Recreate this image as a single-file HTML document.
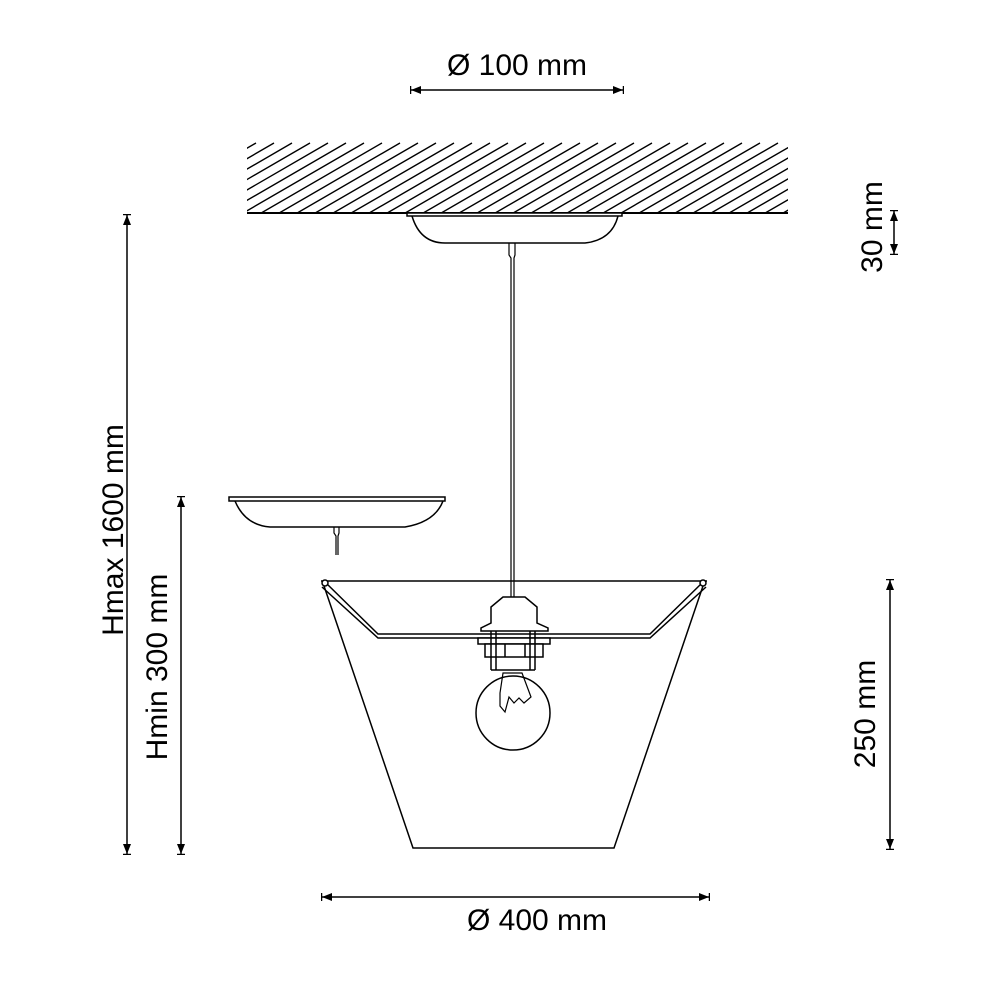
<!DOCTYPE html>
<html><head><meta charset="utf-8"><style>html,body{margin:0;padding:0;background:#fff}svg{display:block}</style></head>
<body>
<svg width="1000" height="1000" viewBox="0 0 1000 1000" xmlns="http://www.w3.org/2000/svg">
<defs>
<marker id="a" viewBox="0 0 12 12" refX="11" refY="6" markerWidth="12" markerHeight="12" markerUnits="userSpaceOnUse" orient="auto-start-reverse">
<path d="M11,6 L1,2 L1,10 Z" fill="#000"/><path d="M11.5,2 V10" stroke="#000" stroke-width="1.5"/>
</marker>
<clipPath id="hc"><rect x="247" y="140" width="541" height="73"/></clipPath>
</defs>
<g clip-path="url(#hc)" stroke="#000" stroke-width="1.4">
<path d="M112,216 l126,-73 M130,216 l126,-73 M148,216 l126,-73 M166,216 l126,-73 M184,216 l126,-73 M202,216 l126,-73 M220,216 l126,-73 M238,216 l126,-73 M256,216 l126,-73 M274,216 l126,-73 M292,216 l126,-73 M310,216 l126,-73 M328,216 l126,-73 M346,216 l126,-73 M364,216 l126,-73 M382,216 l126,-73 M400,216 l126,-73 M418,216 l126,-73 M436,216 l126,-73 M454,216 l126,-73 M472,216 l126,-73 M490,216 l126,-73 M508,216 l126,-73 M526,216 l126,-73 M544,216 l126,-73 M562,216 l126,-73 M580,216 l126,-73 M598,216 l126,-73 M616,216 l126,-73 M634,216 l126,-73 M652,216 l126,-73 M670,216 l126,-73 M688,216 l126,-73 M706,216 l126,-73 M724,216 l126,-73 M742,216 l126,-73 M760,216 l126,-73 M778,216 l126,-73"/>
</g>
<g stroke="#000" fill="none" stroke-width="1.5">
<line x1="247" y1="213" x2="788" y2="213" stroke-width="2"/>
<rect x="407" y="213" width="215" height="3" fill="#fff"/>
<path d="M412,216 Q420,243 445,243 L585,243 Q612,240 618,216"/>
<path d="M509,243 L509,255 L511,258 L511,597 M515,243 L515,255 L514,258 L514,597" stroke-width="1.2"/>
<rect x="229" y="497" width="216" height="4" fill="#fff"/>
<path d="M235,501 Q245,525 270,527 L405,527 Q435,522 443,501"/>
<path d="M334,527 L334,533 L336,536 L336,555 M339,527 L339,533 L338,536 L338,555" stroke-width="1.2"/>
<line x1="321" y1="581" x2="707" y2="581"/>
<path d="M323,583 L413,848 L614,848 L704,583"/>
<path d="M326,583 L378,634 L650,634 L702,583 M322,587 L378,638 L650,638 L706,587"/>
<circle cx="325" cy="583" r="3" fill="#fff"/><circle cx="703" cy="583" r="3" fill="#fff"/>
<path d="M510,597 L503,597 L491,607 L491,623 L481,628 L481,631 L548,631 L548,628 L537,623 L537,607 L525,597 Z" fill="#fff"/>
<rect x="478" y="638" width="72" height="6" fill="#fff"/>
<rect x="485" y="644" width="58" height="13" fill="#fff"/>
<path d="M505,644 V657 M525,644 V657"/>
<path d="M491,631 V670 M535,631 V670 M496,631 V670 M530,631 V670 M491,670 H535"/>
<path d="M503,673 L522,673 L531,697 L524,703 L519,698 L514,703 L509,697 L505,712 L500,706 L500,693 Z" stroke-width="1.2"/>
<circle cx="513" cy="713" r="37"/>
</g>
<g stroke="#000" stroke-width="1.5" marker-start="url(#a)" marker-end="url(#a)">
<line x1="411" y1="90" x2="623" y2="90"/>
<line x1="127" y1="215" x2="127" y2="854"/>
<line x1="181" y1="497" x2="181" y2="854"/>
<line x1="894" y1="211" x2="894" y2="254"/>
<line x1="890" y1="580" x2="890" y2="849"/>
<line x1="322" y1="897" x2="709" y2="897"/>
</g>
<g font-family="Liberation Sans, sans-serif" font-size="30" fill="#000" text-anchor="middle">
<text x="517" y="75">Ø 100 mm</text>
<text x="537" y="930">Ø 400 mm</text>
<text transform="translate(123,530) rotate(-90)">Hmax 1600 mm</text>
<text transform="translate(167,667) rotate(-90)">Hmin 300 mm</text>
<text transform="translate(882,227) rotate(-90)">30 mm</text>
<text transform="translate(875,714) rotate(-90)">250 mm</text>
</g>
</svg>
</body></html>
